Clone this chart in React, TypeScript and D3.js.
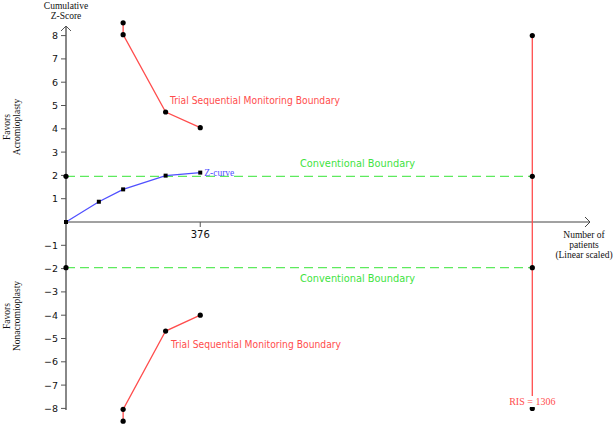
import React from 'react';
import * as d3 from 'd3';

// z-curve (cumulative patients, cumulative z)
const zPatients = [0, 92, 160, 279, 376];
const zScores = [0, 0.87, 1.4, 1.99, 2.12];

// trial sequential monitoring boundaries
const tsmPatients = [160, 160, 279, 376];
const tsmUpper = [8.55, 8.04, 4.72, 4.05];
const tsmLower = [-8.55, -8.04, -4.68, -4.0];

const risPatients = 1306;
const risBoundary = [8, -8];
const conventional = [1.96, -1.96];

const yTicks = [8, 7, 6, 5, 4, 3, 2, 1, -1, -2, -3, -4, -5, -6, -7, -8];
const xTicks = [376];

const W = 614;
const H = 425;
const RED = '#ff4d4d';
const GREEN = '#5eea5e';
const BLUE = '#5050ff';
const INK = '#111';
const serif = '"Liberation Serif", "DejaVu Serif", serif';
const sans = '"DejaVu Sans", "Liberation Sans", sans-serif';

export default function App() {
  const x = d3.scaleLinear().domain([0, risPatients]).range([66, 532.3]);
  const y = d3.scaleLinear().domain([-8, 8]).range([408.4, 35.6]);

  const line = d3.line<[number, number]>().x(d => x(d[0])).y(d => y(d[1]));
  const zPts: [number, number][] = zPatients.map((p, i) => [p, zScores[i]]);
  const upPts: [number, number][] = tsmPatients.map((p, i) => [p, tsmUpper[i]]);
  const loPts: [number, number][] = tsmPatients.map((p, i) => [p, tsmLower[i]]);

  const x0 = x(0);
  const y0 = y(0);
  const fmt = (v: number) => (v < 0 ? '\u2212' + Math.abs(v) : String(v));

  return (
    <svg width={W} height={H} style={{ position: 'absolute', left: 0, top: 0, background: '#fff' }}>
      {/* conventional boundaries */}
      {conventional.map(c => (
        <line key={c} x1={x0} x2={x(risPatients)} y1={y(c)} y2={y(c)}
          stroke={GREEN} strokeWidth={1.3} strokeDasharray="9,5" />
      ))}

      {/* axes */}
      <line x1={x0} x2={590} y1={y0} y2={y0} stroke="#444" strokeWidth={1} />
      <path d={`M${585},${y0 - 5} L590,${y0} L${585},${y0 + 5}`} fill="none" stroke="#444" strokeWidth={1} />
      <line x1={x0} x2={x0} y1={26} y2={410} stroke="#888" strokeWidth={2} />
      <path d={`M${x0 - 5},31 L${x0},26 L${x0 + 5},31`} fill="none" stroke="#555" strokeWidth={1} />

      {yTicks.map(t => (
        <g key={t}>
          <line x1={x0 - 5} x2={x0} y1={y(t)} y2={y(t)} stroke="#555" strokeWidth={1} />
          <text x={x0 - 8} y={y(t) + 3.5} textAnchor="end" fontFamily={sans} fontSize={9.5} fill={INK}>{fmt(t)}</text>
        </g>
      ))}
      {xTicks.map(t => (
        <g key={t}>
          <line x1={x(t)} x2={x(t)} y1={y0} y2={y0 + 5} stroke="#555" strokeWidth={1} />
          <text x={x(t)} y={y0 + 15.5} textAnchor="middle" fontFamily={sans} fontSize={10} fill={INK}>{t}</text>
        </g>
      ))}

      {/* RIS line */}
      <line x1={x(risPatients)} x2={x(risPatients)} y1={y(risBoundary[0])} y2={y(risBoundary[1])} stroke={RED} strokeWidth={1.3} />

      {/* monitoring boundaries */}
      <path d={line(upPts) || ''} fill="none" stroke={RED} strokeWidth={1.3} />
      <path d={line(loPts) || ''} fill="none" stroke={RED} strokeWidth={1.3} />
      {[...upPts, ...loPts].map((d, i) => (
        <circle key={'b' + i} cx={x(d[0])} cy={y(d[1])} r={2.6} fill="#000" />
      ))}

      {/* dots on conventional boundary and RIS */}
      {conventional.map(c => (
        <g key={'c' + c}>
          <circle cx={x0} cy={y(c)} r={2.6} fill="#000" />
          <circle cx={x(risPatients)} cy={y(c)} r={2.6} fill="#000" />
        </g>
      ))}
      {risBoundary.map(b => (
        <circle key={'r' + b} cx={x(risPatients)} cy={y(b)} r={2.6} fill="#000" />
      ))}

      {/* z-curve */}
      <path d={line(zPts) || ''} fill="none" stroke={BLUE} strokeWidth={1.3} />
      {zPts.map((d, i) => (
        <rect key={'z' + i} x={x(d[0]) - 2} y={y(d[1]) - 2} width={4} height={4} fill="#000" />
      ))}
      <text x={x(zPatients[zPatients.length - 1]) + 4} y={y(zScores[zScores.length - 1]) + 3}
        fontFamily={serif} fontSize={9.5} fill={BLUE}>Z-curve</text>

      {/* boundary labels */}
      <text x={170} y={104} fontFamily={sans} fontSize={10.3} fill={RED} textLength={170} lengthAdjust="spacingAndGlyphs">Trial Sequential Monitoring Boundary</text>
      <text x={171} y={347.5} fontFamily={sans} fontSize={10.3} fill={RED} textLength={170} lengthAdjust="spacingAndGlyphs">Trial Sequential Monitoring Boundary</text>
      <text x={300} y={167} fontFamily={sans} fontSize={10.3} fill="#3fe33f" textLength={115} lengthAdjust="spacingAndGlyphs">Conventional Boundary</text>
      <text x={300} y={282} fontFamily={sans} fontSize={10.3} fill="#3fe33f" textLength={115} lengthAdjust="spacingAndGlyphs">Conventional Boundary</text>

      {/* RIS label */}
      <rect x={x(risPatients) - 22} y={396} width={44} height={11} fill="#fff" />
      <text x={x(risPatients)} y={405} textAnchor="middle" fontFamily={serif} fontSize={10} fill={RED}>RIS = 1306</text>

      {/* axis titles */}
      <text x={x0} y={9} textAnchor="middle" fontFamily={serif} fontSize={9.5} fill={INK}>Cumulative</text>
      <text x={x0} y={19} textAnchor="middle" fontFamily={serif} fontSize={9.5} fill={INK}>Z-Score</text>

      <text x={584} y={237.5} textAnchor="middle" fontFamily={serif} fontSize={9.5} fill={INK}>Number of</text>
      <text x={584} y={247.5} textAnchor="middle" fontFamily={serif} fontSize={9.5} fill={INK}>patients</text>
      <text x={584} y={258} textAnchor="middle" fontFamily={serif} fontSize={9.5} fill={INK}>(Linear scaled)</text>

      <g transform="translate(10,127) rotate(-90)">
        <text x={0} y={0} textAnchor="middle" fontFamily={serif} fontSize={9.5} fill={INK}>Favors</text>
        <text x={0} y={10} textAnchor="middle" fontFamily={serif} fontSize={9.5} fill={INK}>Acromioplasty</text>
      </g>
      <g transform="translate(10,316) rotate(-90)">
        <text x={0} y={0} textAnchor="middle" fontFamily={serif} fontSize={9.5} fill={INK}>Favors</text>
        <text x={0} y={10} textAnchor="middle" fontFamily={serif} fontSize={9.5} fill={INK}>Nonacromioplasty</text>
      </g>
    </svg>
  );
}
